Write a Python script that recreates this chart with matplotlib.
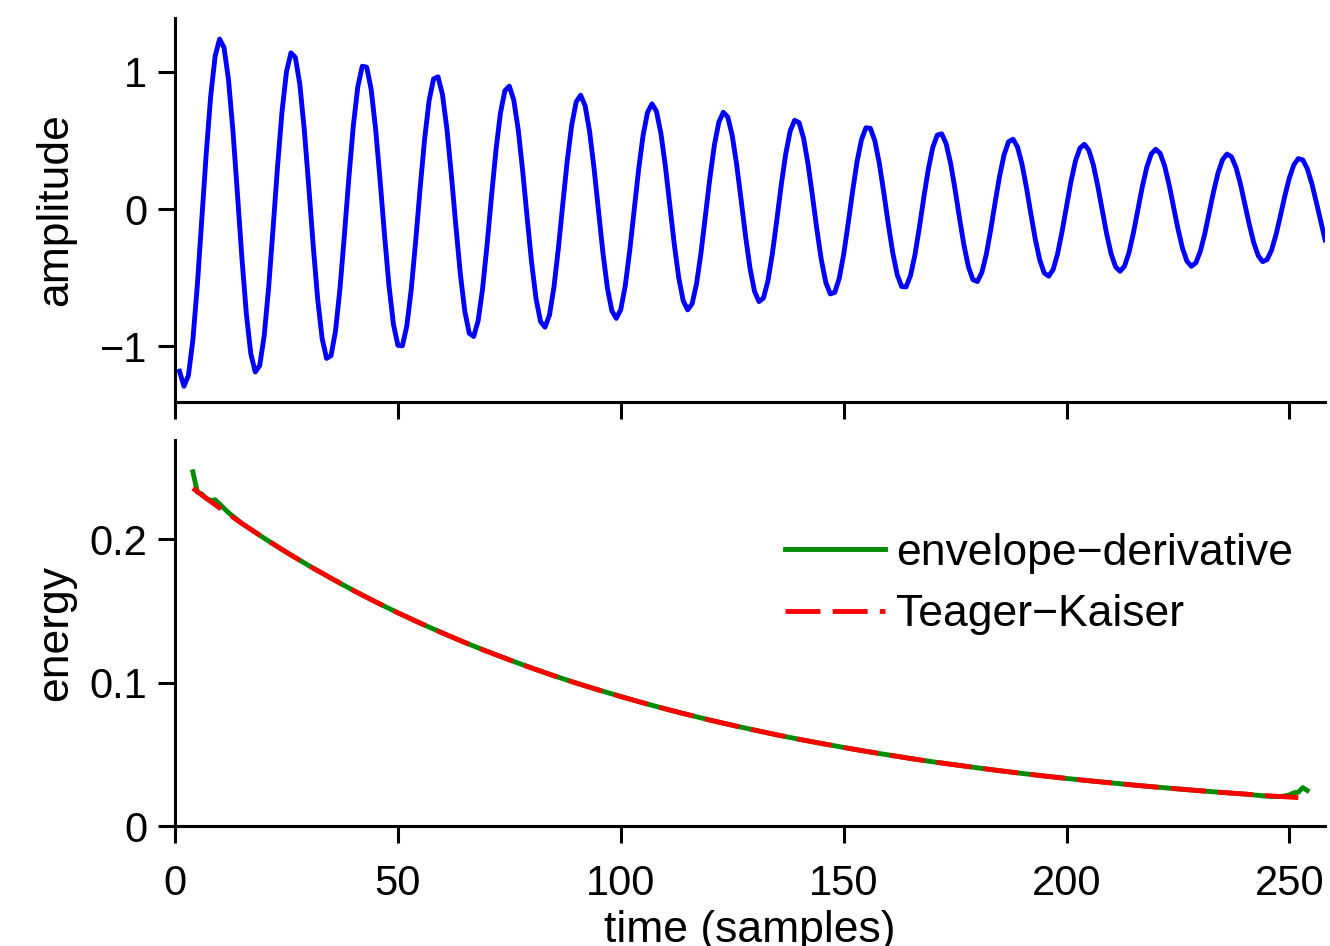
import matplotlib
matplotlib.use('Agg')
from matplotlib import pyplot as plt

plt.rcParams['font.family'] = ['Liberation Sans', 'DejaVu Sans']

# damped test signal, one value per sample (n = 1 .. 258)
amplitude = [
    -1.180, -1.290, -1.212, -0.954, -0.557, -0.081, 0.403, 0.821, 1.113, 1.237,
    1.174, 0.939, 0.565, 0.111, -0.355, -0.763, -1.053, -1.186, -1.139, -0.923,
    -0.572, -0.140, 0.310, 0.708, 0.998, 1.136, 1.103, 0.906, 0.577, 0.165,
    -0.267, -0.655, -0.942, -1.087, -1.067, -0.889, -0.580, -0.188, 0.228, 0.606,
    0.889, 1.039, 1.032, 0.871, 0.582, 0.210, -0.191, -0.558, -0.839, -0.992,
    -0.996, -0.851, -0.582, -0.228, 0.156, 0.512, 0.789, 0.947, 0.962, 0.832,
    0.581, 0.245, -0.123, -0.470, -0.743, -0.904, -0.928, -0.813, -0.579, -0.261,
    0.093, 0.429, 0.698, 0.861, 0.894, 0.792, 0.575, 0.274, -0.065, -0.391,
    -0.655, -0.819, -0.860, -0.772, -0.570, -0.286, 0.039, 0.354, 0.613, 0.780,
    0.828, 0.751, 0.565, 0.296, -0.015, -0.320, -0.575, -0.741, -0.796, -0.731,
    -0.559, -0.305, -0.008, 0.287, 0.536, 0.703, 0.765, 0.711, 0.551, 0.312,
    0.028, -0.257, -0.500, -0.667, -0.734, -0.690, -0.543, -0.318, -0.047, 0.228,
    0.466, 0.632, 0.704, 0.669, 0.535, 0.322, 0.065, -0.200, -0.433, -0.599,
    -0.674, -0.648, -0.525, -0.326, -0.081, 0.175, 0.401, 0.567, 0.646, 0.628,
    0.516, 0.329, 0.095, -0.151, -0.372, -0.535, -0.618, -0.607, -0.506, -0.331,
    -0.108, 0.128, 0.344, 0.505, 0.591, 0.587, 0.496, 0.332, 0.120, -0.107,
    -0.316, -0.477, -0.564, -0.567, -0.484, -0.332, -0.131, 0.088, 0.291, 0.449,
    0.538, 0.547, 0.474, 0.331, 0.141, -0.069, -0.266, -0.422, -0.514, -0.528,
    -0.462, -0.330, -0.149, 0.052, 0.243, 0.396, 0.490, 0.508, 0.451, 0.328,
    0.157, -0.036, -0.222, -0.372, -0.466, -0.489, -0.440, -0.325, -0.163, 0.021,
    0.201, 0.349, 0.443, 0.471, 0.428, 0.322, 0.169, -0.008, -0.181, -0.326,
    -0.421, -0.453, -0.416, -0.318, -0.174, -0.005, 0.162, 0.304, 0.400, 0.435,
    0.405, 0.314, 0.178, 0.017, -0.145, -0.284, -0.379, -0.417, -0.392, -0.309,
    -0.182, -0.028, 0.129, 0.264, 0.359, 0.400, 0.380, 0.304, 0.184, 0.037,
    -0.113, -0.245, -0.340, -0.383, -0.368, -0.299, -0.186, -0.046, 0.099, 0.228,
    0.322, 0.367, 0.357, 0.294, 0.188, 0.055, -0.085, -0.225,
]
samples = list(range(1, len(amplitude) + 1))

# Teager-Kaiser energy
tk_n = [4, 5, 6, 8, 10, 15, 20, 25, 30, 35, 40, 45, 50, 55, 60, 65, 70, 75, 80,
        85, 90, 95, 100, 105, 110, 115, 120, 125, 130, 135, 140, 145, 150, 155,
        160, 165, 170, 175, 180, 185, 190, 195, 200, 205, 210, 215, 220, 225,
        230, 235, 240, 245, 250, 252]
tk_energy = [0.2355, 0.2332, 0.2308, 0.2263, 0.2218, 0.2110, 0.2007, 0.1909,
             0.1816, 0.1728, 0.1643, 0.1563, 0.1487, 0.1415, 0.1346, 0.1280,
             0.1218, 0.1159, 0.1102, 0.1048, 0.0997, 0.0949, 0.0903, 0.0859,
             0.0817, 0.0777, 0.0739, 0.0703, 0.0669, 0.0636, 0.0605, 0.0576,
             0.0548, 0.0521, 0.0496, 0.0471, 0.0448, 0.0427, 0.0406, 0.0386,
             0.0367, 0.0349, 0.0332, 0.0316, 0.0301, 0.0286, 0.0272, 0.0259,
             0.0246, 0.0234, 0.0223, 0.0212, 0.0202, 0.0198]

# envelope-derivative energy
ed_n = [4, 5, 6, 7, 8, 9, 10, 11, 12, 13, 15, 20, 25, 30, 35, 40, 45, 50, 55,
        60, 65, 70, 75, 80, 85, 90, 95, 100, 105, 110, 115, 120, 125, 130, 135,
        140, 145, 150, 155, 160, 165, 170, 175, 180, 185, 190, 195, 200, 205,
        210, 215, 220, 225, 230, 235, 240, 245, 247, 248, 249, 250, 251, 252,
        253, 254]
ed_energy = [0.2470, 0.2330, 0.2315, 0.2285, 0.2270, 0.2275, 0.2245, 0.2215,
             0.2185, 0.2160, 0.2110, 0.2007, 0.1909, 0.1816, 0.1728, 0.1643,
             0.1563, 0.1487, 0.1415, 0.1346, 0.1280, 0.1218, 0.1159, 0.1102,
             0.1048, 0.0997, 0.0949, 0.0903, 0.0859, 0.0817, 0.0777, 0.0739,
             0.0703, 0.0669, 0.0636, 0.0605, 0.0576, 0.0548, 0.0521, 0.0496,
             0.0471, 0.0448, 0.0427, 0.0406, 0.0386, 0.0367, 0.0349, 0.0332,
             0.0316, 0.0301, 0.0286, 0.0272, 0.0259, 0.0246, 0.0234, 0.0223,
             0.0208, 0.0205, 0.0206, 0.0210, 0.0217, 0.0232, 0.0236, 0.0268,
             0.0248]

x_ticks = [0, 50, 100, 150, 200, 250]
amp_ticks = [-1, 0, 1]
amp_labels = ['\u22121', '0', '1']
energy_ticks = [0, 0.1, 0.2]
energy_labels = ['0', '0.1', '0.2']

fig = plt.figure(figsize=(13.3, 9.46), dpi=100)
ax1 = fig.add_axes([0.1316, 0.5751, 0.8647, 0.4059])
ax2 = fig.add_axes([0.1316, 0.1268, 0.8647, 0.4081])

for ax in (ax1, ax2):
    ax.spines['top'].set_visible(False)
    ax.spines['right'].set_visible(False)
    ax.spines['left'].set_linewidth(2.2)
    ax.spines['bottom'].set_linewidth(2.2)
    ax.set_xlim(0, 258)
    ax.set_xticks(x_ticks)
    ax.tick_params(direction='out', length=12, width=2.2, labelsize=30)
    ax.tick_params(axis='y', pad=8)
    ax.tick_params(axis='x', pad=15)

# top panel: signal
ax1.plot(samples, amplitude, color='#0000ff', lw=3.5)
ax1.set_ylim(-1.404, 1.39)
ax1.set_yticks(amp_ticks)
ax1.set_yticklabels(amp_labels)
ax1.tick_params(axis='x', labelbottom=False)
ax1.set_ylabel('amplitude', fontsize=32)
ax1.yaxis.set_label_coords(-0.086, 0.5)

# bottom panel: energies
ax2.plot(ed_n, ed_energy, color='#008b00', lw=3.5, label='envelope\u2212derivative')
ax2.plot(tk_n, tk_energy, color='#ff0000', lw=3.5, linestyle=(0, (7.2, 2.5)),
         label='Teager\u2212Kaiser')
ax2.set_ylim(0, 0.2692)
ax2.set_yticks(energy_ticks)
ax2.set_yticklabels(energy_labels)
ax2.set_ylabel('energy', fontsize=32)
ax2.yaxis.set_label_coords(-0.086, 0.5)
ax2.set_xlabel('time (samples)', fontsize=32)
ax2.xaxis.set_label_coords(0.5, -0.2176)

ax2.legend(loc='upper left', bbox_to_anchor=(0.5304, 0.759), frameon=False,
           fontsize=32, handlelength=2.25, handletextpad=0.25,
           labelspacing=0.46, borderpad=0, borderaxespad=0)

fig.savefig('out.png', dpi=100)
